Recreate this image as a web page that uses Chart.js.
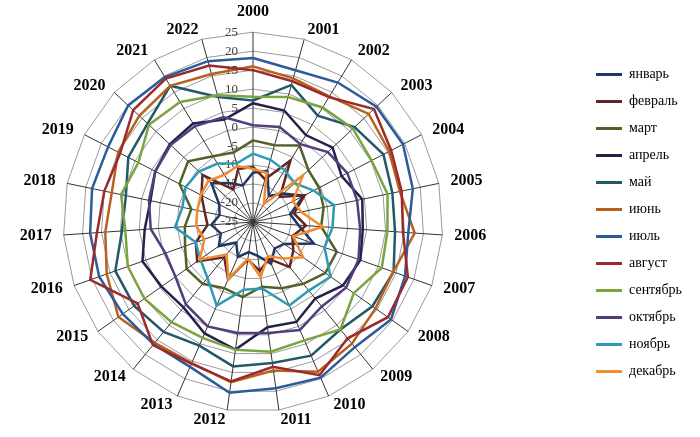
<!DOCTYPE html>
<html>
<head>
<meta charset="utf-8">
<script src="https://cdn.jsdelivr.net/npm/chart.js@4.4.1/dist/chart.umd.min.js"></script>
<style>
  html, body { margin: 0; padding: 0; background: #fff; }
</style>
</head>
<body>
<canvas id="chart" width="700" height="437"></canvas>
<script>
// years around the radar, clockwise from the top
const years = ['2000', '2001', '2002', '2003', '2004', '2005', '2006', '2007', '2008', '2009', '2010', '2011',
  '2012', '2013', '2014', '2015', '2016', '2017', '2018', '2019', '2020', '2021', '2022']

const tickValues = [-25, -20, -15, -10, -5, 0, 5, 10, 15, 20, 25]

// monthly values
const jan = [-12, -11, -17, -14, -10, -15, -13, -8, -15, -16, -13, -16, -17, -15, -18, -14, -16, -14, -16, -15, -10, -13, -15]
const feb = [-10.5, -13.3, -6, -15.3, -9.7, -14, -11, -14, -12, -9.7, -14.4, -12, -15, -8.5, -13, -7, -9, -13, -12, -9.7, -6.8, -15, -10.5]
const mar = [-3.5, -4, -1.4, -5, -5.4, -6, -7, -1.6, -1.7, -4, -6, -7.8, -5, -6, -4, -3.6, -6, -7, -8.4, -3.2, -1.6, -4.7, -6]
const apr = [6.3, 5.5, 1.8, 3.7, 1.3, 4.4, 4, 5, 4, 1, 3.7, 3, 8.9, 7, 4, 4.5, 5.9, 3.6, 2.6, 4, 5, 5.4, 3]
const may = [7, 12.5, 7.8, 11.6, 13.7, 12.5, 12.5, 14.3, 13.5, 11.5, 13.4, 12.5, 13.4, 10.5, 12.3, 13.3, 13.5, 9.6, 9.2, 12, 13, 17, 9.2]
const jun = [16, 14.3, 13.7, 16.7, 15.4, 14.5, 17.7, 14.2, 14.5, 16.3, 18, 14.5, 17.6, 15.5, 16, 18.4, 15.9, 14, 13, 15, 16, 17, 15.5]
const jul = [18.2, 16.5, 18, 19.5, 19.5, 18, 16, 17.5, 19.5, 17.5, 19.7, 19.2, 20.4, 16.6, 16.5, 17, 18, 18, 18.3, 18, 20, 19.7, 19]
const aug = [15, 13.5, 13.5, 18.6, 16, 15, 14.6, 18.3, 18.5, 14.5, 19, 13.5, 17.4, 15.7, 16.8, 12.2, 20.5, 16.2, 15, 14.4, 18.2, 19.2, 17.8]
const sep = [8, 9.2, 10.3, 11, 10.2, 11.2, 10.5, 11, 7.5, 11.5, 9, 9.5, 9, 8.3, 9, 10, 10, 8.7, 10.5, 9, 12.5, 12, 9.7]
const oct = [0.5, 1, -1, 2, 3, 3, 3.3, 4.5, 5, 3.7, 6, 4.5, 4.5, 5, 3, 0, -0.5, 2, 3, 4, 4.7, 4.5, 3.7]
const nov = [-7, -8, -9, -10, -7, -3.2, -4, -5, 0, -1.7, -1, -7.3, -7, -1, -6, -8, -9, -4.4, -6, -5, -5.5, -7, -9]
const dec = [-11, -11.6, -19.5, -7, -13.2, -12, -6.6, -13.8, -8.8, -12.6, -15.2, -10.3, -15.3, -8.7, -14, -7.8, -11.4, -10, -10, -9.5, -9, -10.5, -9.7]

const months = ['январь', 'февраль', 'март', 'апрель', 'май', 'июнь', 'июль', 'август', 'сентябрь', 'октябрь', 'ноябрь', 'декабрь']
const monthData = [jan, feb, mar, apr, may, jun, jul, aug, sep, oct, nov, dec]
const colors = ['#203864', '#632523', '#4F6228', '#24224A', '#215968', '#B8611C',
  '#2C5A9A', '#9B2B2A', '#7BA340', '#553C7E', '#2E9BB5', '#F08C30']

const serif = '"Liberation Serif", "Times New Roman", serif'
const yearFont = 'bold 16px ' + serif

// radar sits left of centre in the picture, so pin its centre,
// and put the year labels beside each spoke end the way the original does
const radarCenter = {x: 253, dy: 2}
class PinnedRadialScale extends Chart.RadialLinearScale {
  setCenterPoint(l, r, t, b) {
    super.setCenterPoint(l, r, t, b)
    this.xCenter = radarCenter.x
    this.yCenter += radarCenter.dy
  }

  fit() {
    super.fit()
    const ctx = this.ctx
    const lineH = 16 * 1.2
    ctx.save()
    ctx.font = yearFont
    this._pointLabelItems = this._pointLabels.map((text, i) => {
      const p = this.getPointPosition(i, this.drawingArea)
      const s = (p.x - this.xCenter) / this.drawingArea
      const c = (this.yCenter - p.y) / this.drawingArea
      const w = ctx.measureText(text).width
      let cx = p.x
      let cy = p.y
      if (Math.abs(s) > 0.01) {
        cx += s * 12 + Math.sign(s) * w / 2
        cy -= c * 10
      } else {
        cy -= Math.sign(c) * 20
      }
      return {
        visible: true,
        x: cx,
        y: cy - lineH / 2,
        textAlign: 'center',
        left: cx - w / 2,
        right: cx + w / 2,
        top: cy - lineH / 2,
        bottom: cy + lineH / 2,
      }
    })
    ctx.restore()
  }
}
PinnedRadialScale.id = 'pinnedRadial'
Chart.register(PinnedRadialScale)

// tick numbers sit left of the vertical axis, right aligned
const tickLabels = {
  id: 'tickLabels',
  beforeDatasetsDraw(chart) {
    const scale = chart.scales.r
    const ctx = chart.ctx
    ctx.save()
    ctx.font = '13px ' + serif
    ctx.fillStyle = '#404040'
    ctx.textAlign = 'right'
    ctx.textBaseline = 'middle'
    tickValues.forEach(v => {
      const p = scale.getPointPositionForValue(0, v)
      ctx.fillText(String(v), p.x - 15, p.y)
    })
    ctx.restore()
  }
}

// nudge the legend block a little left and down
const legendNudge = {
  id: 'legendNudge',
  afterLayout(chart) {
    const lg = chart.legend
    lg.left -= 8
    lg.right -= 8
    lg.top += 3
    lg.bottom += 3
  }
}

const datasets = months.map((m, i) => ({
  label: m,
  data: monthData[i],
  borderColor: colors[i],
  backgroundColor: colors[i],
  borderWidth: 2.5,
  pointRadius: 0,
  fill: false,
  order: 11 - i,
}))

new Chart(document.getElementById('chart'), {
  type: 'radar',
  data: {labels: years, datasets},
  plugins: [tickLabels, legendNudge],
  options: {
    responsive: false,
    animation: false,
    layout: {padding: {left: 0, right: 0, top: 3, bottom: 0}},
    elements: {line: {tension: 0}},
    plugins: {
      tooltip: {enabled: false},
      legend: {
        position: 'right',
        labels: {
          boxWidth: 26,
          boxHeight: 3,
          padding: 13,
          color: '#111',
          font: {family: serif, size: 14},
          generateLabels: chart => chart.data.datasets.map((ds, i) => ({
            text: ds.label,
            fillStyle: ds.borderColor,
            strokeStyle: ds.borderColor,
            lineWidth: 0,
            hidden: false,
            datasetIndex: i,
          })),
        },
      },
    },
    scales: {
      r: {
        type: 'pinnedRadial',
        min: -25,
        max: 25,
        ticks: {display: false, stepSize: 5},
        grid: {color: '#9a9a9a', lineWidth: 1},
        angleLines: {color: '#333', lineWidth: 1},
        pointLabels: {
          padding: 8,
          color: '#000',
          font: {family: serif, size: 16, weight: 'bold'},
        },
      },
    },
  },
})
</script>
</body>
</html>
